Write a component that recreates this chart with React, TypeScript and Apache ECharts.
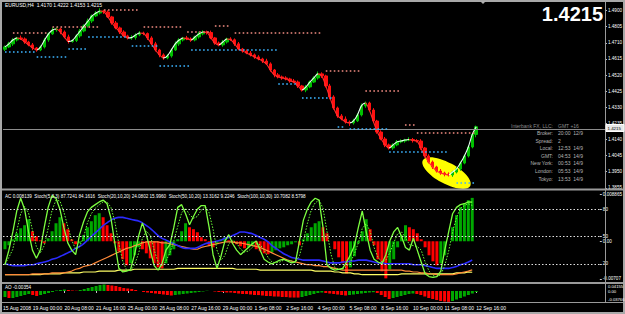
import React, { useEffect, useRef } from 'react';
import * as echarts from 'echarts';

const FONT = '"Liberation Sans", Arial, sans-serif';

const xLabels = ['15 Aug 2008', '19 Aug 00:00', '20 Aug 08:00', '21 Aug 16:00', '25 Aug 00:00', '26 Aug 08:00', '27 Aug 16:00', '29 Aug 00:00', '1 Sep 08:00', '2 Sep 16:00', '4 Sep 00:00', '5 Sep 08:00', '8 Sep 16:00', '10 Sep 00:00', '11 Sep 08:00', '12 Sep 16:00'];

const firstOpen = 1.4672;
const closes = [
  1.4686, 1.4704, 1.4727, 1.4739, 1.4733, 1.4715, 1.4698, 1.4680, 1.4668, 1.4686,
  1.4727, 1.4763, 1.4786, 1.4792, 1.4774, 1.4745, 1.4718, 1.4724, 1.4751, 1.4780,
  1.4810, 1.4839, 1.4869, 1.4886, 1.4898, 1.4892, 1.4863, 1.4827, 1.4798, 1.4774,
  1.4751, 1.4739, 1.4742, 1.4757, 1.4768, 1.4765, 1.4739, 1.4704, 1.4668, 1.4639,
  1.4621, 1.4633, 1.4668, 1.4704, 1.4727, 1.4739, 1.4733, 1.4727, 1.4745, 1.4763,
  1.4774, 1.4771, 1.4739, 1.4709, 1.4698, 1.4715, 1.4733, 1.4728, 1.4704, 1.4674,
  1.4662, 1.4650, 1.4639, 1.4627, 1.4615, 1.4603, 1.4586, 1.4550, 1.4521, 1.4509,
  1.4503, 1.4497, 1.4485, 1.4479, 1.4456, 1.4432, 1.4450, 1.4479, 1.4503, 1.4527,
  1.4515, 1.4456, 1.4391, 1.4326, 1.4279, 1.4261, 1.4243, 1.4238, 1.4250, 1.4285,
  1.4338, 1.4355, 1.4314, 1.4249, 1.4184, 1.4143, 1.4108, 1.4090, 1.4108, 1.4126,
  1.4131, 1.4137, 1.4140, 1.4134, 1.4131, 1.4090, 1.4043, 1.4007, 1.3978, 1.3954,
  1.3942, 1.3936, 1.3931, 1.3948, 1.3966, 1.4001, 1.4043, 1.4096, 1.4170, 1.4215,
];
const wickUpPips = [
  8, 12, 10, 6, 14, 9, 7, 11, 5, 9,
  12, 8, 15, 10, 7, 9, 13, 6, 10, 12,
  9, 14, 8, 11, 16, 7, 10, 6, 12, 8,
  10, 7, 13, 9, 11, 8, 6, 10, 12, 7,
  9, 11, 8, 14, 10, 6, 12, 9, 7, 13,
  10, 8, 11, 6, 9, 12, 7, 10, 8, 11,
  6, 9, 12, 8, 10, 7, 13, 9, 6, 11,
  8, 10, 7, 12, 9, 6, 11, 8, 10, 14,
  9, 7, 12, 10, 8, 11, 15, 9, 12, 10,
  14, 9, 8, 11, 7, 10, 12, 8, 9, 11,
  10, 7, 13, 9, 8, 11, 6, 10, 9, 7,
  12, 8, 10, 7, 11, 9, 8, 10, 7, 7,
];
const wickDownPips = [
  10, 7, 12, 9, 6, 11, 8, 13, 10, 7,
  9, 11, 6, 10, 13, 8, 12, 7, 9, 11,
  8, 10, 12, 7, 9, 11, 6, 10, 8, 12,
  7, 9, 11, 13, 8, 10, 12, 7, 9, 14,
  11, 8, 10, 6, 12, 9, 7, 11, 8, 10,
  9, 12, 7, 10, 8, 11, 9, 6, 12, 8,
  10, 7, 9, 11, 8, 12, 6, 10, 14, 9,
  11, 8, 10, 7, 12, 9, 13, 8, 6, 10,
  12, 9, 14, 10, 11, 8, 9, 18, 10, 7,
  9, 11, 8, 12, 10, 7, 13, 9, 11, 8,
  8, 10, 7, 12, 9, 11, 10, 8, 12, 9,
  10, 13, 9, 11, 8, 10, 7, 9, 8, 17,
];

const acValues = [
  -0.00150, -0.00075, 0.00038, 0.00150, 0.00244, 0.00301, 0.00414, 0.00188, 0.00094, 0.00019,
  -0.00038, 0.00056, 0.00188, 0.00338, 0.00451, 0.00338, 0.00226, 0.00038, -0.00056, -0.00038,
  0.00113, 0.00263, 0.00376, 0.00489, 0.00526, 0.00451, 0.00301, 0.00150, -0.00038, -0.00188,
  -0.00338, -0.00451, -0.00414, -0.00263, -0.00113, -0.00150, -0.00226, -0.00320, -0.00414, -0.00489,
  -0.00508, -0.00414, -0.00263, -0.00150, 0.00038, 0.00188, 0.00338, 0.00263, 0.00226, 0.00169,
  0.00075, 0.00038, -0.00075, -0.00113, -0.00056, 0.00038, 0.00075, 0.00019, -0.00038, -0.00056,
  -0.00094, -0.00132, -0.00113, -0.00075, -0.00150, -0.00188, -0.00226, -0.00244, -0.00207, -0.00169,
  -0.00132, -0.00113, -0.00075, -0.00056, -0.00019, -0.00075, 0.00038, 0.00150, 0.00263, 0.00338,
  0.00376, 0.00263, 0.00150, 0.00000, -0.00150, -0.00301, -0.00414, -0.00602, -0.00489, -0.00282,
  -0.00038, 0.00188, 0.00414, 0.00226, -0.00075, -0.00338, -0.00564, -0.00696, -0.00526, -0.00338,
  -0.00113, 0.00113, 0.00301, 0.00263, 0.00226, 0.00150, 0.00038, -0.00113, -0.00263, -0.00376,
  -0.00451, -0.00414, -0.00263, 0.00000, 0.00263, 0.00489, 0.00639, 0.00714, 0.00771, 0.00814,
];
const aoValues = [
  -0.0210, -0.0245, -0.0245, -0.0210, -0.0175, -0.0140, -0.0105, -0.0140, -0.0175, -0.0140,
  -0.0105, -0.0070, -0.0035, 0.0018, 0.0035, 0.0053, 0.0035, 0.0018, 0.0010, 0.0035,
  0.0070, 0.0105, 0.0140, 0.0175, 0.0210, 0.0228, 0.0210, 0.0193, 0.0175, 0.0140,
  0.0105, 0.0088, 0.0070, 0.0035, 0.0000, -0.0035, -0.0053, -0.0070, -0.0088, -0.0105,
  -0.0123, -0.0140, -0.0158, -0.0140, -0.0123, -0.0105, -0.0088, -0.0070, -0.0053, -0.0035,
  -0.0018, 0.0010, 0.0000, -0.0018, -0.0035, -0.0036, -0.0053, -0.0054, -0.0070, -0.0088,
  -0.0105, -0.0107, -0.0123, -0.0140, -0.0142, -0.0158, -0.0175, -0.0177, -0.0193, -0.0195,
  -0.0210, -0.0212, -0.0228, -0.0229, -0.0230, -0.0210, -0.0175, -0.0140, -0.0105, -0.0070,
  -0.0053, -0.0070, -0.0088, -0.0105, -0.0123, -0.0140, -0.0158, -0.0140, -0.0123, -0.0105,
  -0.0088, -0.0070, -0.0053, -0.0042, -0.0070, -0.0140, -0.0210, -0.0280, -0.0245, -0.0210,
  -0.0175, -0.0140, -0.0105, -0.0088, -0.0105, -0.0140, -0.0193, -0.0245, -0.0280, -0.0315,
  -0.0350, -0.0368, -0.0380, -0.0350, -0.0298, -0.0245, -0.0193, -0.0140, -0.0088, -0.0035,
];
const stochFast = [
  19, 35, 55, 78, 92, 80, 55, 35, 26, 35,
  60, 82, 95, 92, 80, 60, 43, 35, 30, 52,
  66, 77, 82, 85, 88, 90, 86, 70, 42, 15,
  11, 12, 14, 30, 50, 65, 52, 35, 18, 13,
  20, 35, 41, 60, 82, 85, 75, 63, 72, 80,
  84, 84, 60, 30, 15, 28, 45, 52, 42, 35,
  30, 34, 38, 42, 45, 35, 25, 22, 20, 22,
  24, 25, 23, 21, 22, 45, 68, 80, 88, 92,
  90, 60, 19, 15, 13, 14, 15, 22, 30, 40,
  60, 78, 55, 35, 25, 22, 20, 30, 45, 55,
  60, 50, 38, 35, 48, 35, 22, 9, 6, 5,
  6, 12, 35, 55, 75, 82, 85, 86, 88, 87.72,
];
const stochFastSignal = [
  20, 27, 36, 56, 75, 83, 76, 57, 39, 32,
  40, 59, 79, 90, 89, 77, 61, 46, 36, 39,
  49, 65, 75, 81, 85, 88, 88, 82, 66, 42,
  23, 13, 12, 19, 31, 48, 56, 51, 35, 22,
  17, 23, 32, 45, 61, 76, 81, 74, 70, 72,
  79, 83, 76, 58, 35, 24, 29, 42, 46, 43,
  36, 33, 34, 38, 42, 41, 35, 27, 22, 21,
  22, 24, 24, 23, 22, 29, 45, 64, 79, 87,
  90, 81, 56, 31, 16, 14, 14, 17, 22, 31,
  43, 59, 64, 56, 38, 27, 22, 24, 32, 43,
  53, 55, 49, 41, 40, 39, 35, 22, 12, 7,
  6, 8, 18, 34, 55, 71, 81, 84, 86, 84.16,
];
const stoch20 = [
  20, 19, 18, 18, 18, 18, 19, 19, 20, 21,
  22, 23, 25, 26, 28, 30, 32, 34, 37, 39,
  42, 46, 50, 54, 58, 62, 65, 68, 70, 71,
  71, 70, 69, 68, 67, 65, 62, 59, 55, 51,
  48, 46, 44, 42, 40, 38, 37, 37, 37, 38,
  40, 42, 43, 44, 45, 46, 48, 49, 51, 53,
  55, 55, 54, 53, 51, 49, 47, 44, 40, 37,
  34, 31, 29, 27, 26, 25, 24, 24, 24, 24,
  24, 23, 22, 21, 21, 21, 22, 22, 23, 23,
  24, 24, 24, 23, 22, 21, 21, 20, 20, 20,
  20, 20, 20, 20, 19, 19, 19, 18, 17, 16,
  15, 15, 15, 15, 16, 17, 19, 20, 22, 24.08,
];
const stoch50 = [
  8, 8, 8, 8, 8, 8, 8, 9, 9, 9,
  9, 9, 10, 10, 10, 10, 11, 12, 14, 15,
  17, 18, 19, 21, 23, 25, 27, 29, 31, 33,
  35, 37, 38, 40, 41, 43, 44, 44, 44, 44,
  43, 43, 42, 41, 40, 39, 38, 37, 36, 36,
  38, 39, 40, 41, 42, 43, 44, 44, 44, 43,
  43, 42, 41, 40, 39, 38, 36, 34, 32, 30,
  28, 26, 24, 23, 22, 21, 20, 19, 19, 18,
  18, 17, 17, 16, 15, 14, 13, 13, 13, 13,
  13, 13, 13, 13, 13, 13, 13, 13, 13, 13,
  13, 13, 12, 12, 11, 11, 10, 10, 9, 9,
  8, 8, 8, 8, 8, 9, 10, 11, 12, 13.32,
];
const stoch100 = [
  8, 8, 8, 8, 8, 8, 8, 8, 8, 8,
  9, 9, 9, 9, 9, 10, 10, 10, 10, 10,
  11, 11, 11, 11, 12, 12, 12, 12, 12, 13,
  13, 13, 13, 14, 14, 14, 14, 14, 14, 14,
  14, 14, 14, 14, 15, 15, 15, 15, 15, 15,
  15, 15, 15, 15, 15, 15, 15, 15, 15, 14,
  14, 14, 14, 14, 14, 13, 13, 13, 13, 13,
  13, 13, 13, 13, 13, 13, 13, 13, 13, 12,
  12, 12, 12, 12, 11, 11, 10, 10, 10, 9,
  9, 8, 8, 8, 8, 8, 8, 8, 8, 8,
  8, 9, 9, 9, 9, 9, 9, 9, 9, 9,
  9, 9, 9, 9, 9, 10, 10, 10, 11, 10.71,
];

const priceTicks = [1.49, 1.4805, 1.471, 1.4615, 1.452, 1.4425, 1.433, 1.4235, 1.414, 1.4045, 1.395, 1.3855];
const acTicks = [0.008865, 0, -0.00707];
const stochLevels = [80, 50, 20];

// [fromBar, toBar, price]
const resistance: [number, number, number][] = [
  [2, 11, 1.4768], [12, 24, 1.4804], [25, 34, 1.4904], [35, 45, 1.4804], [46, 52, 1.4774],
  [53, 57, 1.481], [58, 80, 1.4768], [81, 90, 1.4544], [91, 100, 1.4426], [101, 104, 1.4225], [104, 119, 1.4178],
];
const support: [number, number, number][] = [
  [0, 8, 1.4656], [8, 16, 1.4627], [16, 21, 1.4674], [21, 31, 1.4745], [32, 39, 1.4692], [39, 47, 1.4574],
  [47, 69, 1.4668], [69, 74, 1.4467], [75, 83, 1.4385], [84, 86, 1.4214], [87, 97, 1.4202], [97, 112, 1.4066], [114, 119, 1.3883],
];

const infoLabels = ['Broker:', 'Spread:', 'Local:', 'GMT:', 'New York:', 'London:', 'Tokyo:'];
const infoValues = ['20:00  12/9', '2', '12:53  14/9', '04:53  14/9', '00:53  14/9', '05:53  14/9', '13:53  14/9'];
const lastPrice = 1.4215;
const ellipseAt: [number, number] = [111, 1.3942];
const N_CAT = 152;

const GREEN = '#00a800';
const RED = '#ff0000';

export default function App() {
  const ref = useRef<HTMLDivElement>(null);
  useEffect(() => {
    document.body.style.margin = '0';
    const chart = echarts.init(ref.current!, null, { renderer: 'svg' });
    const cats = Array.from({ length: N_CAT }, (_, i) => String(i));
    const opens = closes.map((c, i) => (i === 0 ? firstOpen : closes[i - 1]));
    const candles = closes.map((c, i) => {
      const o = opens[i];
      return [o, c, Math.min(o, c) - wickDownPips[i] * 0.0001, Math.max(o, c) + wickUpPips[i] * 0.0001];
    });
    const pieces = closes.slice(1).map((c, i) => {
      const p: any = { gte: i, color: c >= closes[i] ? '#e6fff0' : '#ff2a2a' };
      if (i === closes.length - 2) p.lte = i + 1; else p.lt = i + 1;
      return p;
    });
    const dotStyle = (color: string) => ({ color, width: 1.6, type: [1.6, 2.4] as any, cap: 'butt' as any });
    const segLines = [
      ...resistance.map(([a, b, p]) => [
        { coord: [a, p], lineStyle: dotStyle('#f08a80') },
        { coord: [b, p], lineStyle: dotStyle('#f08a80') },
      ]),
      ...support.map(([a, b, p]) => [
        { coord: [a, p], lineStyle: dotStyle('#3cb4ff') },
        { coord: [b, p], lineStyle: dotStyle('#3cb4ff') },
      ]),
    ];
    const changeColor = (arr: number[]) => (params: any) => {
      const i = params.dataIndex;
      return i === 0 || arr[i] >= arr[i - 1] ? GREEN : RED;
    };
    // labels after the first sit at bar 8k-1 (left-aligned, so the text starts just before bar 8k)
    const labelIdx = (index: number) => index > 0 && index <= 119 && (index + 1) % 8 === 0;
    const tickIdx = (index: number) => index <= 119 && (index === 0 || (index + 1) % 8 === 0);
    const grids = [
      { left: 3, right: 20, top: 3, height: 185 },
      { left: 3, right: 20, top: 191, height: 91 },
      { left: 3, right: 20, top: 284, height: 18 },
    ];
    const hiddenX = (g: number) => ({ type: 'category', gridIndex: g, data: cats, show: false, boundaryGap: true });
    const option: any = {
      animation: false,
      backgroundColor: '#000',
      grid: grids,
      xAxis: [
        hiddenX(0),
        hiddenX(1),
        {
          type: 'category', gridIndex: 2, data: cats, boundaryGap: true,
          axisLine: { show: false },
          axisTick: { show: true, interval: tickIdx, alignWithLabel: true, length: 2, lineStyle: { color: '#c8c8c8' } },
          axisLabel: {
            interval: labelIdx, color: '#ffffff', fontSize: 5, fontFamily: FONT, align: 'left', margin: 3,
            formatter: (_v: string, index: number) => xLabels[(index + 1) / 8] ?? '',
          },
        },
      ],
      yAxis: [
        {
          type: 'value', gridIndex: 0, position: 'right', min: 1.3854, max: 1.4945,
          axisLine: { show: false }, splitLine: { show: false },
          axisTick: { show: true, customValues: priceTicks, length: 2, lineStyle: { color: '#c8c8c8' } },
          axisLabel: { customValues: priceTicks, formatter: (v: number) => v.toFixed(4), color: '#ffffff', fontSize: 4.6, fontFamily: FONT, margin: 3 },
        },
        {
          type: 'value', gridIndex: 1, position: 'right', min: -0.00764, max: 0.00943,
          axisLine: { show: false }, splitLine: { show: false },
          axisTick: { show: true, customValues: acTicks, length: 2, lineStyle: { color: '#c8c8c8' } },
          axisLabel: { customValues: acTicks, formatter: (v: number) => (v === 0 ? '0.00' : String(v)), color: '#ffffff', fontSize: 4.6, fontFamily: FONT, margin: 3 },
        },
        {
          type: 'value', gridIndex: 1, position: 'right', min: 0, max: 100,
          axisLine: { show: false }, splitLine: { show: false },
          axisTick: { show: true, customValues: stochLevels, length: 2, lineStyle: { color: '#c8c8c8' } },
          axisLabel: { customValues: stochLevels, color: '#ffffff', fontSize: 4.6, fontFamily: FONT, margin: 3 },
        },
        {
          type: 'value', gridIndex: 2, position: 'right', min: -0.0385, max: 0.0245,
          axisLine: { show: false }, splitLine: { show: false }, axisTick: { show: false }, axisLabel: { show: false },
        },
      ],
      visualMap: {
        show: false, type: 'piecewise', dimension: 0, seriesIndex: 1, pieces, outOfRange: { color: '#e6fff0' },
      },
      series: [
        {
          type: 'candlestick', xAxisIndex: 0, yAxisIndex: 0, data: candles, barWidth: 3,
          itemStyle: { color: '#00c000', color0: '#ff1010', borderColor: '#00c000', borderColor0: '#ff1010', borderWidth: 1 },
          markLine: {
            silent: true, symbol: ['none', 'none'], label: { show: false }, animation: false,
            data: [
              { yAxis: lastPrice, lineStyle: { color: '#8c8c8c', width: 1, type: 'solid' } },
              ...segLines,
            ],
          },
        },
        {
          type: 'line', xAxisIndex: 0, yAxisIndex: 0, data: closes, symbol: 'none', smooth: 0.3,
          lineStyle: { width: 1.1 },
        },
        {
          type: 'bar', xAxisIndex: 1, yAxisIndex: 1, data: acValues, barWidth: 3,
          itemStyle: { color: changeColor(acValues) },
        },
        {
          type: 'line', xAxisIndex: 1, yAxisIndex: 2, data: stoch100, symbol: 'none', lineStyle: { color: '#ffff66', width: 1.2 },
        },
        {
          type: 'line', xAxisIndex: 1, yAxisIndex: 2, data: stoch50, symbol: 'none', lineStyle: { color: '#ff8a3a', width: 1.2 },
        },
        {
          type: 'line', xAxisIndex: 1, yAxisIndex: 2, data: stoch20, symbol: 'none', smooth: 0.3, lineStyle: { color: '#2b2bff', width: 1.6 },
        },
        {
          type: 'line', xAxisIndex: 1, yAxisIndex: 2, data: stochFastSignal, symbol: 'none', lineStyle: { color: '#6cff3a', width: 1, type: [1.5, 1.5] },
        },
        {
          type: 'line', xAxisIndex: 1, yAxisIndex: 2, data: stochFast, symbol: 'none', lineStyle: { color: '#7cff40', width: 1.3 },
          markLine: {
            silent: true, symbol: ['none', 'none'], label: { show: false },
            lineStyle: { color: '#e0e0e0', width: 1, type: [1.5, 2] },
            data: stochLevels.map((v) => ({ yAxis: v })),
          },
        },
        {
          type: 'bar', xAxisIndex: 2, yAxisIndex: 3, data: aoValues, barWidth: 3,
          itemStyle: { color: changeColor(aoValues) },
        },
      ],
    };
    chart.setOption(option);
    const [ex, ey] = chart.convertToPixel({ gridIndex: 0 } as any, ellipseAt) as number[];
    const txt = (text: string, x: number, y: number, o: any = {}) => ({
      type: 'text', x, y, z: 100,
      style: { text, fill: o.fill ?? '#ffffff', fontSize: o.fontSize ?? 5, fontFamily: FONT, fontWeight: o.fontWeight ?? 'normal', align: o.align ?? 'left', verticalAlign: 'middle' },
    });
    const hline = (y: number, w: number, color = '#9a9a9a') => ({ type: 'line', z: 90, shape: { x1: 0, y1: y, x2: 625, y2: y }, style: { stroke: color, lineWidth: w } });
    const elements: any[] = [
      {
        type: 'group', x: ex + 2, y: ey, rotation: -0.5, z: 0,
        children: [{ type: 'ellipse', shape: { cx: 0, cy: 0, rx: 27, ry: 10.5 }, style: { fill: '#ffff00' }, z: 0 }],
      },
      hline(189.5, 2),
      hline(283, 2),
      hline(302.5, 1),
      { type: 'line', z: 90, shape: { x1: 605.5, y1: 0, x2: 605.5, y2: 303 }, style: { stroke: '#9a9a9a', lineWidth: 1 } },
      { type: 'rect', z: 90, shape: { x: 1, y: 1, width: 623, height: 312 }, style: { fill: null, stroke: '#a8a8a8', lineWidth: 2 } },
      { type: 'polygon', z: 95, shape: { points: [[480, 1], [486, 1], [483, 4]] }, style: { fill: '#b0b0b0' } },
      txt(xLabels[0], 3, 307.8),
      txt('EURUSD,H4  1.4170 1.4222 1.4153 1.4215', 5, 5),
      txt('1.4215', 603, 14, { fontSize: 20, fontWeight: 'bold', align: 'right' }),
      txt('AC 0.008139  Stoch(5,3,3) 87.7241 84.1616  Stoch(20,10,20) 24.0802 15.9960  Stoch(50,10,20) 13.3162 9.2246  Stoch(100,10,30) 10.7082 8.5798', 5, 196, { fontSize: 4.6 }),
      txt('AO -0.00354', 5, 287.5, { fontSize: 4.6 }),
      txt('0.04155', 608, 286.8, { fontSize: 4.2 }),
      txt('0.00', 608, 291.5, { fontSize: 4.2 }),
      txt('-0.03766', 608, 299, { fontSize: 4.2 }),
      txt('Interbank FX, LLC:', 553, 125.5, { fill: '#8c8c8c', align: 'right' }),
      txt('GMT +16', 558, 125.5, { fill: '#8c8c8c' }),
      ...infoLabels.map((l, i) => txt(l, 553, 133 + i * 7.6, { fill: '#b4b4b4', align: 'right' })),
      ...infoValues.map((v, i) => txt(v, 558, 133 + i * 7.6, { fill: '#b4b4b4' })),
      { type: 'rect', z: 110, shape: { x: 606, y: 124.5, width: 18, height: 7 }, style: { fill: '#e8e8e8', stroke: '#ffffff', lineWidth: 1 } },
      { ...txt('1.4215', 607.5, 128.2, { fill: '#000000', fontSize: 4.4 }), z: 111 },
    ];
    chart.setOption({ graphic: { elements } });
    return () => chart.dispose();
  }, []);
  return <div ref={ref} style={{ width: 625, height: 314, background: '#000' }} />;
}
